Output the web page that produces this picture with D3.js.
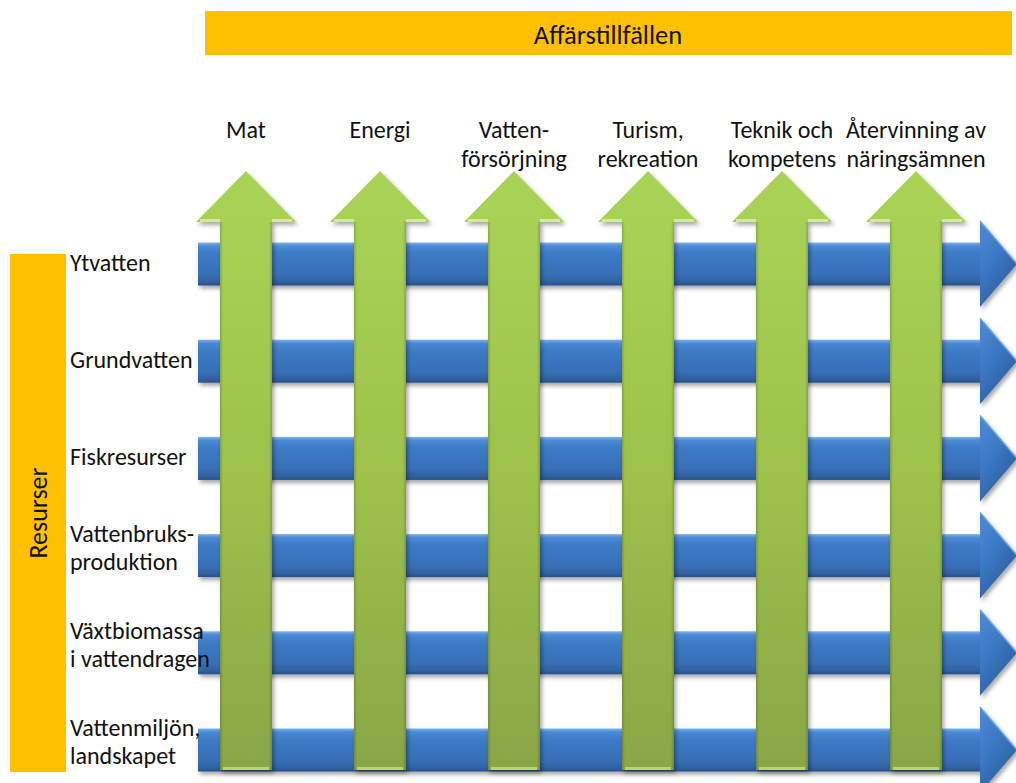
<!DOCTYPE html>
<html><head><meta charset="utf-8">
<script src="https://cdn.jsdelivr.net/npm/d3@7"></script>
<style>html,body{margin:0;padding:0;background:#fff;}svg{display:block;}</style>
</head><body>
<svg id="chart" width="1016" height="783"></svg>
<script>
// ---- data ----
const topTitle = "Affärstillfällen";
const sideTitle = "Resurser";
const columnNames = ["Mat", "Energi", "Vattenförsörjning", "Turism", "Teknik", "Återvinning"];
const columnLabels = [["Mat"], ["Energi"], ["Vatten-", "försörjning"], ["Turism,", "rekreation"], ["Teknik och", "kompetens"], ["Återvinning av", "näringsämnen"]];
const rowNames = ["Ytvatten", "Grundvatten", "Fiskresurser", "Vattenbruksproduktion", "Växtbiomassa", "Vattenmiljön"];
const rowLabels = [["Ytvatten"], ["Grundvatten"], ["Fiskresurser"], ["Vattenbruks-", "produktion"], ["Växtbiomassa", "i vattendragen"], ["Vattenmiljön,", "landskapet"]];

// ---- layout ----
const FONT = "Carlito, Lato, 'Open Sans', sans-serif";
const svg = d3.select("#chart");
const defs = svg.append("defs");

const x = d3.scalePoint().domain(columnNames).range([246, 916]);
const y = d3.scalePoint().domain(rowNames).range([264, 750]);

// filters & gradients
const f = defs.append("filter").attr("id", "shadow").attr("x", "-10%").attr("y", "-10%").attr("width", "130%").attr("height", "130%");
f.append("feDropShadow").attr("dx", 2).attr("dy", 3).attr("stdDeviation", 2).attr("flood-color", "#000").attr("flood-opacity", 0.35);

function grad(id, stops, x1, y1, x2, y2) {
  const g = defs.append("linearGradient").attr("id", id)
    .attr("x1", x1).attr("y1", y1).attr("x2", x2).attr("y2", y2);
  stops.forEach(s => g.append("stop").attr("offset", s[0]).attr("stop-color", s[1]));
}
grad("blueShaft", [["0%", "#7fb4ee"], ["8%", "#4d8bd6"], ["25%", "#3c7bc6"], ["75%", "#386fb7"], ["92%", "#30609f"], ["100%", "#27508a"]], "0", "0", "0", "1");
grad("blueHead", [["0%", "#4f8cd8"], ["50%", "#3b77c3"], ["100%", "#2c5c9c"]], "0", "0", "0.6", "1");
grad("greenV", [["0%", "#a9d456"], ["50%", "#9ec24c"], ["100%", "#8aa646"]], "0", "0", "0", "1");
grad("greenEdge", [["0%", "rgba(0,0,0,0.18)"], ["6%", "rgba(0,0,0,0)"], ["94%", "rgba(0,0,0,0)"], ["100%", "rgba(0,0,0,0.18)"]], "0", "0", "1", "0");

// header bars
svg.append("rect").attr("x", 205).attr("y", 11).attr("width", 807).attr("height", 44).attr("fill", "#FFC000");
svg.append("text").attr("x", 608).attr("y", 44).attr("text-anchor", "middle")
  .attr("font-family", FONT).attr("font-size", 26.5).attr("fill", "#111").text(topTitle);

svg.append("rect").attr("x", 10).attr("y", 254).attr("width", 56).attr("height", 518).attr("fill", "#FFC000");
svg.append("text").attr("transform", "translate(47,513) rotate(-90)").attr("text-anchor", "middle")
  .attr("font-family", FONT).attr("font-size", 26).attr("fill", "#111").text(sideTitle);

// blue horizontal arrows
const bx0 = 198, bx1 = 980, btip = 1017, bh = 21.5, bhh = 43;
const blue = svg.append("g").selectAll("g").data(rowNames).join("g").attr("filter", "url(#shadow)");
blue.append("rect").attr("x", bx0).attr("y", d => y(d) - bh).attr("width", bx1 - bx0 + 1).attr("height", bh * 2)
  .attr("fill", "url(#blueShaft)");
blue.append("path").attr("d", d => {
  const c = y(d);
  return `M${bx1},${c - bhh}L${btip},${c}L${bx1},${c + bhh}Z`;
}).attr("fill", "url(#blueHead)");
blue.append("path").attr("d", d => {
  const c = y(d);
  return `M${bx1},${c - bhh}L${btip},${c}`;
}).attr("stroke", "#6aa3e4").attr("stroke-width", 1.5).attr("fill", "none");

// green vertical arrows
const gTip = 171, gBase = 222, gBottom = 770, gw = 26, gwh = 50;
const green = svg.append("g").selectAll("g").data(columnNames).join("g").attr("filter", "url(#shadow)");
green.append("path").attr("d", d => {
  const c = x(d);
  return `M${c},${gTip}L${c + gwh},${gBase}L${c + gw},${gBase}L${c + gw},${gBottom}L${c - gw},${gBottom}L${c - gw},${gBase}L${c - gwh},${gBase}Z`;
}).attr("fill", "url(#greenV)");
green.append("rect").attr("x", d => x(d) - gw).attr("y", gBase).attr("width", gw * 2).attr("height", gBottom - gBase)
  .attr("fill", "url(#greenEdge)");
green.append("path").attr("d", d => {
  const c = x(d);
  return `M${c - gwh + 4},${gBase - 1.5}L${c - gw},${gBase - 1.5}M${c + gw},${gBase - 1.5}L${c + gwh - 4},${gBase - 1.5}`;
}).attr("stroke", "#d6ea9a").attr("stroke-width", 3).attr("fill", "none");
green.append("path").attr("d", d => {
  const c = x(d);
  return `M${c - gw + 3},${gBottom - 1.5}L${c + gw - 3},${gBottom - 1.5}`;
}).attr("stroke", "#b9d66e").attr("stroke-width", 3).attr("fill", "none");

// column labels
svg.append("g").selectAll("text").data(columnNames).join("text")
  .attr("x", d => x(d)).attr("y", 138).attr("text-anchor", "middle")
  .attr("font-family", FONT).attr("font-size", 24).attr("fill", "#111")
  .each(function (d, i) {
    d3.select(this).selectAll("tspan").data(columnLabels[i]).join("tspan")
      .attr("x", x(d)).attr("dy", (t, j) => j === 0 ? 0 : 29).text(t => t);
  });

// row labels
svg.append("g").selectAll("text").data(rowNames).join("text")
  .attr("x", 70).attr("y", (d, i) => rowLabels[i].length > 1 ? y(d) - 14 : y(d) + 7)
  .attr("font-family", FONT).attr("font-size", 24).attr("fill", "#111")
  .each(function (d, i) {
    d3.select(this).selectAll("tspan").data(rowLabels[i]).join("tspan")
      .attr("x", 70).attr("dy", (t, j) => j === 0 ? 0 : 28).text(t => t);
  });
</script>
</body></html>
